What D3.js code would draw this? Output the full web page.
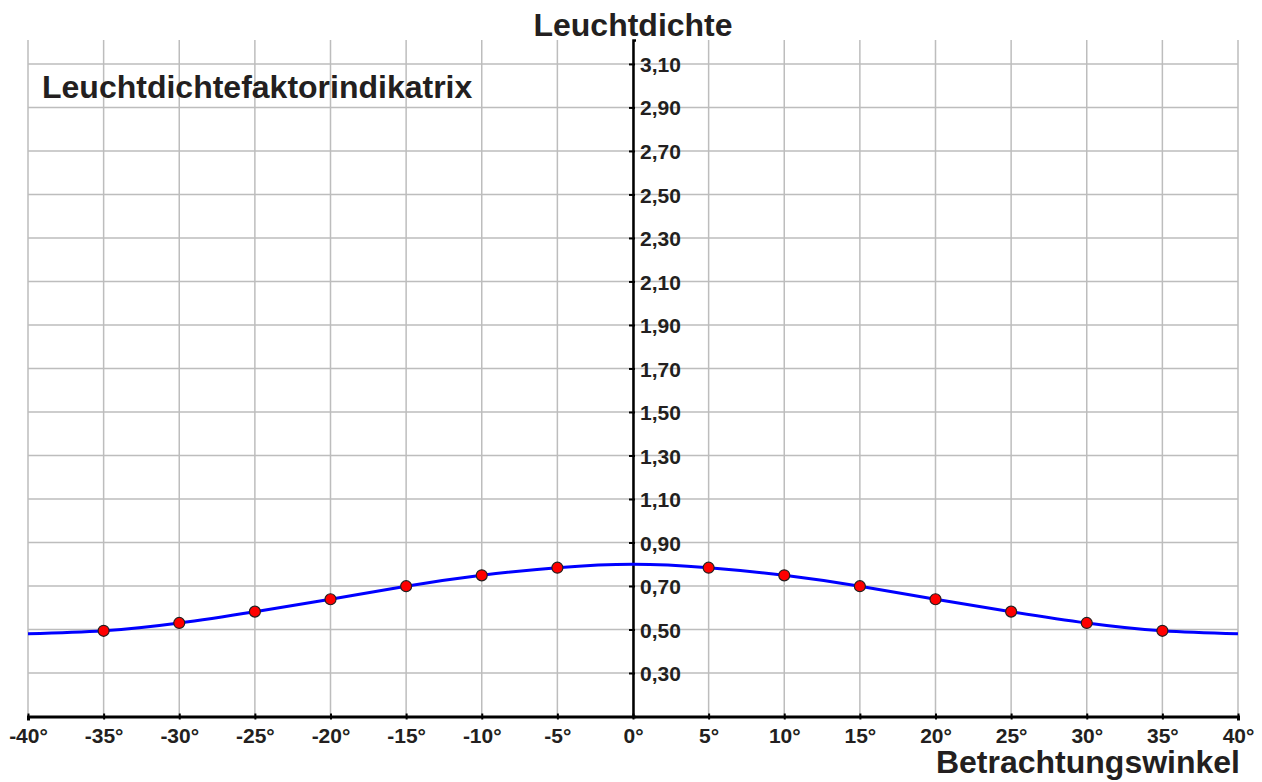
<!DOCTYPE html>
<html>
<head>
<meta charset="utf-8">
<script src="https://cdn.jsdelivr.net/npm/d3@7"></script>
<style>
  body { margin: 0; background: #fff; }
  text { font-family: "Liberation Sans", Arial, sans-serif; font-weight: bold; fill: #231f20; }
</style>
</head>
<body>
<svg id="chart" width="1262" height="782"></svg>
<script>
// curve through the measured points (degrees -> luminance factor)
var curveAngles = [-40, -35, -30, -25, -20, -15, -10, -5, 0, 5, 10, 15, 20, 25, 30, 35, 40];
var curveValues = [0.48, 0.494, 0.53, 0.582, 0.639, 0.699, 0.749, 0.784, 0.80, 0.784, 0.749, 0.699, 0.639, 0.582, 0.53, 0.494, 0.48];

// red measuring points
var pointAngles = [-35, -30, -25, -20, -15, -10, -5, 5, 10, 15, 20, 25, 30, 35];
var pointValues = [0.494, 0.53, 0.582, 0.639, 0.699, 0.749, 0.784, 0.784, 0.749, 0.699, 0.639, 0.582, 0.53, 0.494];

var xTicks = d3.range(-40, 41, 5);
var yTicks = [0.3, 0.5, 0.7, 0.9, 1.1, 1.3, 1.5, 1.7, 1.9, 2.1, 2.3, 2.5, 2.7, 2.9, 3.1];

var svg = d3.select("#chart");

var x = d3.scaleLinear().domain([-40, 40]).range([28, 1238]);
var y = d3.scaleLinear().domain([0.1, 3.21]).range([716.5, 40]);

// grid
var grid = svg.append("g").attr("stroke", "#bdbdbd").attr("stroke-width", 1.5);
grid.selectAll(".vg").data(xTicks).enter().append("line")
    .attr("x1", d => x(d)).attr("x2", d => x(d))
    .attr("y1", y(3.21)).attr("y2", y(0.1));
grid.selectAll(".hg").data(yTicks).enter().append("line")
    .attr("x1", x(-40)).attr("x2", x(40))
    .attr("y1", d => y(d)).attr("y2", d => y(d));

// x axis
var xAxis = svg.append("g")
    .attr("transform", "translate(0," + y(0.1) + ")")
    .call(d3.axisBottom(x).tickValues(xTicks).tickSize(4).tickFormat(d => d + "°"));
xAxis.select(".domain").attr("stroke", "#000").attr("stroke-width", 3);
xAxis.selectAll(".tick line").attr("stroke", "#000").attr("stroke-width", 2).attr("y1", -3).attr("y2", 3);
xAxis.selectAll(".tick text").attr("y", 26.5).attr("dy", 0)
    .style("font-size", "21px").style("fill", "#231f20");

// y axis at 0°
var yAxis = svg.append("g")
    .attr("transform", "translate(" + x(0) + ",0)")
    .call(d3.axisRight(y).tickValues(yTicks).tickSize(3).tickFormat(d => d3.format(".2f")(d).replace(".", ",")));
yAxis.select(".domain").attr("stroke", "#000").attr("stroke-width", 2.5);
yAxis.selectAll(".tick line").attr("stroke", "#000").attr("stroke-width", 2).attr("x1", -4).attr("x2", 2);
yAxis.selectAll(".tick text").attr("x", 7).attr("dy", "0.36em")
    .style("font-size", "21px").style("fill", "#231f20");

// curve
var line = d3.line()
    .x((d, i) => x(curveAngles[i]))
    .y(d => y(d))
    .curve(d3.curveNatural);
svg.append("path")
    .attr("d", line(curveValues))
    .attr("fill", "none")
    .attr("stroke", "#0000ff")
    .attr("stroke-width", 3);

// points
svg.selectAll(".pt").data(pointValues).enter().append("circle")
    .attr("cx", (d, i) => x(pointAngles[i]))
    .attr("cy", d => y(d))
    .attr("r", 5.5)
    .attr("fill", "#ff0000")
    .attr("stroke", "#231f20")
    .attr("stroke-width", 1.2);

// texts
svg.append("text").attr("x", 42).attr("y", 98)
    .style("font-size", "32px").text("Leuchtdichtefaktorindikatrix");
svg.append("text").attr("x", x(0)).attr("y", 36).attr("text-anchor", "middle")
    .style("font-size", "32px").text("Leuchtdichte");
svg.append("text").attr("x", 1240).attr("y", 773).attr("text-anchor", "end")
    .style("font-size", "32px").text("Betrachtungswinkel");
</script>
</body>
</html>
